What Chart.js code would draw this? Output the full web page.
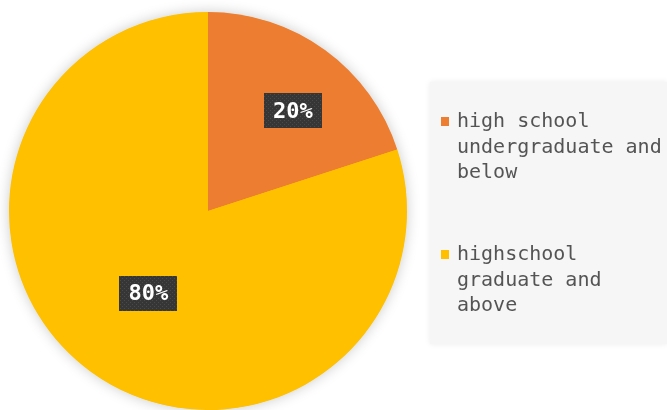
<!DOCTYPE html>
<html>
<head>
<meta charset="utf-8">
<script src="https://cdn.jsdelivr.net/npm/chart.js@4/dist/chart.umd.min.js"></script>
<style>
  html, body { margin: 0; padding: 0; background: #ffffff; }
  #wrap { width: 667px; height: 410px; position: relative; }
</style>
</head>
<body>
<div id="wrap"><canvas id="c" width="667" height="410"></canvas></div>
<script>
// Education level shares
const categories = ["high school undergraduate and below", "highschool graduate and above"];
const shares = [20, 80];
const sliceColors = ["#ED7D31", "#FFC000"];

// Where each value badge sits: fraction of the slice's sweep and of the radius
const badgeAngleFrac = [0.56, 0.5];
const badgeRadiusFrac = [0.66, 0.51];

const MONO = "'DejaVu Sans Mono', 'Liberation Mono', monospace";

// Dark dotted fill for the value badges
function dottedPattern(ctx) {
  const t = document.createElement('canvas');
  t.width = 4; t.height = 4;
  const g = t.getContext('2d');
  g.fillStyle = '#363636';
  g.fillRect(0, 0, 4, 4);
  g.fillStyle = '#4a4a4a';
  g.fillRect(0, 0, 1, 1);
  g.fillRect(2, 2, 1, 1);
  return ctx.createPattern(t, 'repeat');
}

// Soft shadow under the whole pie (drawn once, beneath the slices)
const pieShadow = {
  id: 'pieShadow',
  beforeDatasetsDraw(chart) {
    const arc = chart.getDatasetMeta(0).data[0];
    if (!arc) return;
    const p = arc.getProps(['x', 'y', 'outerRadius'], true);
    const ctx = chart.ctx;
    ctx.save();
    ctx.shadowColor = 'rgba(0,0,0,0.22)';
    ctx.shadowBlur = 14;
    ctx.fillStyle = '#FFC000';
    ctx.beginPath();
    ctx.arc(p.x, p.y, p.outerRadius - 0.5, 0, Math.PI * 2);
    ctx.fill();
    ctx.restore();
  }
};

// Percentage badges on each slice
const valueBadges = {
  id: 'valueBadges',
  afterDatasetsDraw(chart) {
    const ctx = chart.ctx;
    const meta = chart.getDatasetMeta(0);
    const data = chart.data.datasets[0].data;
    const total = data.reduce((a, b) => a + b, 0);
    const pat = dottedPattern(ctx);
    meta.data.forEach((arc, i) => {
      const p = arc.getProps(['x', 'y', 'startAngle', 'endAngle', 'outerRadius'], true);
      const a = p.startAngle + (p.endAngle - p.startAngle) * badgeAngleFrac[i];
      const r = p.outerRadius * badgeRadiusFrac[i];
      const cx = p.x + Math.cos(a) * r;
      const cy = p.y + Math.sin(a) * r;
      const text = Math.round(data[i] / total * 100) + '%';
      ctx.save();
      ctx.font = 'bold 22px ' + MONO;
      const w = 58, h = 35;
      ctx.fillStyle = pat;
      ctx.fillRect(Math.round(cx - w / 2), Math.round(cy - h / 2), w, h);
      ctx.fillStyle = '#ffffff';
      ctx.textAlign = 'center';
      ctx.textBaseline = 'middle';
      ctx.fillText(text, cx, cy + 1);
      ctx.restore();
    });
  }
};

// Legend panel on the right with wrapped labels
function wrapWords(ctx, text, maxW) {
  const words = text.split(' ');
  const lines = [];
  let cur = '';
  words.forEach(wd => {
    const trial = cur ? cur + ' ' + wd : wd;
    if (ctx.measureText(trial).width <= maxW || !cur) cur = trial;
    else { lines.push(cur); cur = wd; }
  });
  if (cur) lines.push(cur);
  return lines;
}

const sideLegend = {
  id: 'sideLegend',
  afterDraw(chart) {
    const ctx = chart.ctx;
    const bx = 430, by = 82, bw = 237, bh = 262;
    ctx.save();
    ctx.shadowColor = 'rgba(0,0,0,0.08)';
    ctx.shadowBlur = 6;
    ctx.fillStyle = '#f6f6f6';
    ctx.fillRect(bx, by, bw, bh);
    ctx.restore();

    ctx.save();
    ctx.font = '20px ' + MONO;
    ctx.textBaseline = 'alphabetic';
    ctx.textAlign = 'left';
    const colors = chart.data.datasets[0].backgroundColor;
    const firstBaseline = [127, 260];
    chart.data.labels.forEach((lab, i) => {
      const lines = wrapWords(ctx, lab, 210);
      const y0 = firstBaseline[i];
      ctx.fillStyle = colors[i];
      ctx.fillRect(441, y0 - 10, 8, 9);
      ctx.fillStyle = '#545454';
      lines.forEach((ln, k) => ctx.fillText(ln, 457, y0 + k * 25.5));
    });
    ctx.restore();
  }
};

new Chart(document.getElementById('c'), {
  type: 'pie',
  data: {
    labels: categories,
    datasets: [{
      data: shares,
      backgroundColor: sliceColors,
      borderWidth: 0,
      hoverOffset: 0
    }]
  },
  options: {
    responsive: false,
    animation: false,
    layout: { padding: { left: 9, right: 260, top: 12, bottom: 0 } },
    plugins: {
      legend: { display: false },
      tooltip: { enabled: false }
    }
  },
  plugins: [pieShadow, valueBadges, sideLegend]
});
</script>
</body>
</html>
